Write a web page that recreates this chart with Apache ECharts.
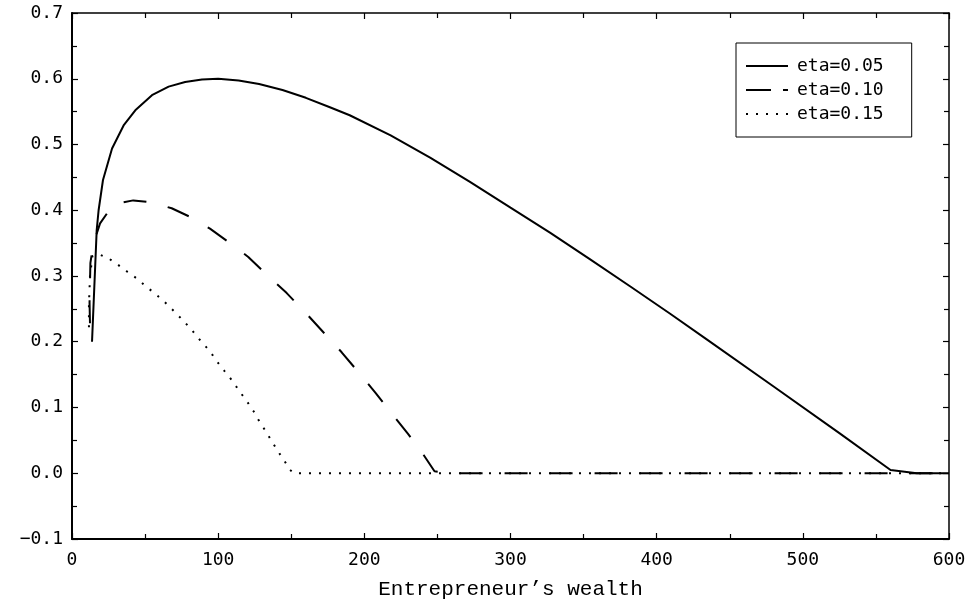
<!DOCTYPE html>
<html>
<head>
<meta charset="utf-8">
<script src="https://cdn.jsdelivr.net/npm/echarts@6/dist/echarts.min.js"></script>
<style>
  html, body { margin: 0; padding: 0; background: #fff; }
  #chart { width: 976px; height: 609px; }
</style>
</head>
<body>
<div id="chart"></div>
<script>
// Series names shown in the legend
const seriesNames = ['eta=0.05', 'eta=0.10', 'eta=0.15'];

// eta = 0.05 (solid)
const wealth05 = [13.7, 16.9, 18.2, 21.2, 27.4, 35.3, 43.3, 54.7, 66.1, 77.4, 88.9, 100, 114, 128, 144, 160, 176, 190, 218, 245, 272, 300, 327, 354, 382, 409, 434, 480, 525, 560, 578, 600];
const eta05    = [0.200, 0.370, 0.400, 0.446, 0.494, 0.529, 0.552, 0.575, 0.588, 0.595, 0.599, 0.600, 0.5975, 0.592, 0.583, 0.571, 0.557, 0.5445, 0.514, 0.480, 0.4435, 0.404, 0.366, 0.326, 0.284, 0.243, 0.204, 0.132, 0.061, 0.005, 0.000, 0.000];

// eta = 0.10 (dashed)
const wealth10 = [12.3, 12.0, 12.3, 12.6, 13.7, 14.6, 19.2, 28.3, 41.9, 54.5, 68.2, 80.7, 94.4, 106.9, 120.6, 133.2, 146.9, 159.4, 172.6, 184.5, 196.6, 207.8, 219.1, 229.9, 240.8, 248, 252, 258, 300, 400, 500, 600];
const eta10    = [0.228, 0.260, 0.289, 0.320, 0.320, 0.349, 0.380, 0.409, 0.415, 0.412, 0.403, 0.390, 0.372, 0.352, 0.329, 0.302, 0.274, 0.245, 0.213, 0.184, 0.152, 0.122, 0.090, 0.060, 0.027, 0.003, 0.002, 0.000, 0.000, 0.000, 0.000, 0.000];

// eta = 0.15 (dotted)
const wealth15 = [11.6, 11.6, 11.9, 12.3, 14.0, 18.5, 24.9, 31.5, 38.1, 44.5, 50.6, 57.0, 63.6, 70.0, 76.6, 82.6, 88.5, 94.2, 99.2, 104.5, 109.9, 114.5, 119.5, 124.0, 127.9, 132.5, 136.6, 140.7, 145.0, 149.1, 152, 200, 300, 400, 500, 600];
const eta15    = [0.222, 0.260, 0.274, 0.300, 0.330, 0.333, 0.327, 0.317, 0.306, 0.296, 0.284, 0.273, 0.260, 0.246, 0.231, 0.216, 0.200, 0.186, 0.170, 0.155, 0.140, 0.125, 0.110, 0.095, 0.080, 0.064, 0.049, 0.034, 0.020, 0.005, 0.000, 0.000, 0.000, 0.000, 0.000, 0.000];

// Axis ranges and ticks
const xMin = 0, xMax = 600, xStep = 100;
const yMin = -0.1, yMax = 0.7, yStep = 0.1;
const xTitle = 'Entrepreneur\u2019s wealth';

const pairs = (xs, ys) => xs.map((x, i) => [x, ys[i]]);

const labelFont = 'DejaVu Sans Mono';
const ink = '#000';

// Line patterns for the three curves
const styles = [
  { color: ink, width: 2, type: 'solid' },
  { color: ink, width: 2, type: [23, 22] },
  { color: ink, width: 2, type: [2, 8] }
];
// Legend key for the dashed curve: one long dash and a short tail
const legendDash = { color: ink, width: 2, type: [25, 12] };

const tickCommon = {
  axisTick: { show: true, inside: true, length: 6, lineStyle: { color: ink, width: 1.2 } },
  minorTick: { show: true, splitNumber: 2, length: 5, lineStyle: { color: ink, width: 1.2 } },
  splitLine: { show: false },
  minorSplitLine: { show: false }
};

const fmtY = v => (v < 0 ? '\u2212' : '') + Math.abs(v).toFixed(1);

const chart = echarts.init(document.getElementById('chart'), null, { renderer: 'canvas' });

chart.setOption({
  animation: false,
  backgroundColor: '#fff',
  grid: { left: 72, right: 27, top: 13, bottom: 70, containLabel: false, outerBoundsMode: 'none' },
  legend: {
    data: [
      { name: seriesNames[0] },
      { name: seriesNames[1], lineStyle: legendDash },
      { name: seriesNames[2] }
    ],
    orient: 'vertical',
    left: 736,
    top: 43,
    padding: [14, 28, 14, 9],
    itemGap: 6,
    itemWidth: 42,
    itemHeight: 14,
    borderColor: ink,
    borderWidth: 1,
    backgroundColor: '#fff',
    // legend keys show only the line pattern, no marker
    itemStyle: { opacity: 0 },
    textStyle: { fontFamily: labelFont, fontSize: 18, color: ink, lineHeight: 18, padding: [0, 0, 0, 4] }
  },
  xAxis: [
    Object.assign({
      type: 'value', min: xMin, max: xMax, interval: xStep, position: 'bottom',
      axisLine: { show: true, onZero: false, lineStyle: { color: ink, width: 2 } },
      axisLabel: { show: true, margin: 12, fontFamily: labelFont, fontSize: 18, color: ink, lineHeight: 18 },
      name: xTitle, nameLocation: 'middle', nameGap: 40,
      nameTextStyle: { fontFamily: 'Liberation Mono', fontSize: 21, color: ink, lineHeight: 21 }
    }, tickCommon),
    Object.assign({
      type: 'value', min: xMin, max: xMax, interval: xStep, position: 'top',
      axisLine: { show: true, onZero: false, lineStyle: { color: ink, width: 1.5 } },
      axisLabel: { show: false }
    }, tickCommon)
  ],
  yAxis: [
    Object.assign({
      type: 'value', min: yMin, max: yMax, interval: yStep, position: 'left',
      axisLine: { show: true, onZero: false, lineStyle: { color: ink, width: 2 } },
      axisLabel: { show: true, margin: 9, fontFamily: labelFont, fontSize: 18, color: ink, formatter: fmtY }
    }, tickCommon),
    Object.assign({
      type: 'value', min: yMin, max: yMax, interval: yStep, position: 'right',
      axisLine: { show: true, onZero: false, lineStyle: { color: ink, width: 1.5 } },
      axisLabel: { show: false }
    }, tickCommon)
  ],
  series: [
    {
      name: seriesNames[0], type: 'line', xAxisIndex: 0, yAxisIndex: 0,
      data: pairs(wealth05, eta05), symbol: 'none', showSymbol: false,
      lineStyle: styles[0], itemStyle: { color: ink }
    },
    {
      name: seriesNames[1], type: 'line', xAxisIndex: 0, yAxisIndex: 0,
      data: pairs(wealth10, eta10), symbol: 'none', showSymbol: false,
      lineStyle: styles[1], itemStyle: { color: ink }
    },
    {
      name: seriesNames[2], type: 'line', xAxisIndex: 0, yAxisIndex: 0,
      data: pairs(wealth15, eta15), symbol: 'none', showSymbol: false,
      lineStyle: styles[2], itemStyle: { color: ink }
    }
  ]
});
</script>
</body>
</html>
